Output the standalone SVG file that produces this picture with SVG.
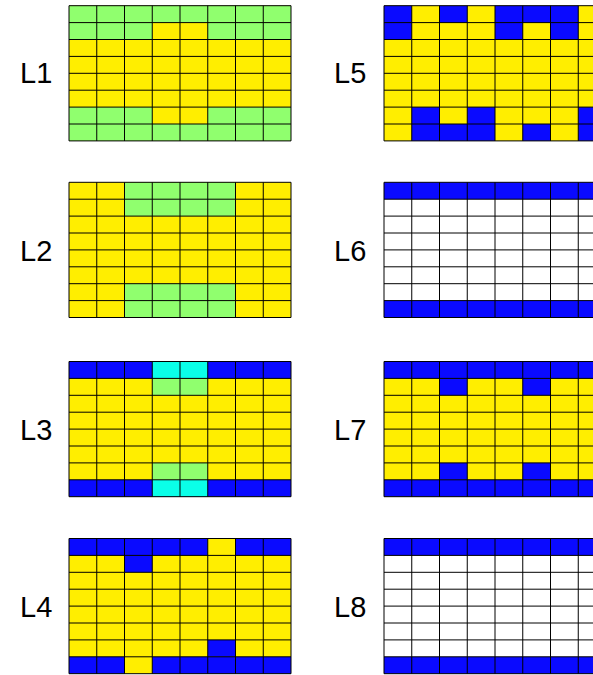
<svg xmlns="http://www.w3.org/2000/svg" xmlns:xlink="http://www.w3.org/1999/xlink" width="593" height="675" viewBox="0 0 593 675">
<style>
.lbl{font-family:"Liberation Sans",Arial,sans-serif;font-size:29px;fill:#000}
.y{fill:#FFEE00}
.g{fill:#90FF6E}
.b{fill:#0A0AFF}
.c{fill:#0AFFE8}
.w{fill:#FFFFFF}
.gl{fill:none;stroke:#000;stroke-width:1}
</style>
<defs>
<path id="lines" class="gl" d="M0,0H222V135.2H0Z M27.75,0V135.2 M55.5,0V135.2 M83.25,0V135.2 M111,0V135.2 M138.75,0V135.2 M166.5,0V135.2 M194.25,0V135.2 M0,16.9H222 M0,33.8H222 M0,50.7H222 M0,67.6H222 M0,84.5H222 M0,101.4H222 M0,118.3H222"/>
</defs>
<rect width="593" height="675" fill="#fff"/>

<g id="L1">
<text class="lbl" x="20" y="83">L1</text>
<g transform="translate(69,5.7)">
<rect class="y" width="222" height="135.2"/>
<rect class="g" x="0" y="0" width="222" height="16.9"/>
<rect class="g" x="0" y="118.3" width="222" height="16.9"/>
<rect class="g" x="0" y="16.9" width="83.25" height="16.9"/>
<rect class="g" x="138.75" y="16.9" width="83.25" height="16.9"/>
<rect class="g" x="0" y="101.4" width="83.25" height="16.9"/>
<rect class="g" x="138.75" y="101.4" width="83.25" height="16.9"/>
<use xlink:href="#lines"/>
</g>
</g>

<g id="L2">
<text class="lbl" x="20" y="261">L2</text>
<g transform="translate(69,182.3)">
<rect class="y" width="222" height="135.2"/>
<rect class="g" x="55.5" y="0" width="111" height="33.8"/>
<rect class="g" x="55.5" y="101.4" width="111" height="33.8"/>
<use xlink:href="#lines"/>
</g>
</g>

<g id="L3">
<text class="lbl" x="20" y="440">L3</text>
<g transform="translate(69,361.5)">
<rect class="y" width="222" height="135.2"/>
<rect class="b" x="0" y="0" width="222" height="16.9"/>
<rect class="b" x="0" y="118.3" width="222" height="16.9"/>
<rect class="c" x="83.25" y="0" width="55.5" height="16.9"/>
<rect class="c" x="83.25" y="118.3" width="55.5" height="16.9"/>
<rect class="g" x="83.25" y="16.9" width="55.5" height="16.9"/>
<rect class="g" x="83.25" y="101.4" width="55.5" height="16.9"/>
<use xlink:href="#lines"/>
</g>
</g>

<g id="L4">
<text class="lbl" x="20" y="617">L4</text>
<g transform="translate(69,538.5)">
<rect class="y" width="222" height="135.2"/>
<rect class="b" x="0" y="0" width="138.75" height="16.9"/>
<rect class="b" x="166.5" y="0" width="55.5" height="16.9"/>
<rect class="b" x="55.5" y="16.9" width="27.75" height="16.9"/>
<rect class="b" x="138.75" y="101.4" width="27.75" height="16.9"/>
<rect class="b" x="0" y="118.3" width="55.5" height="16.9"/>
<rect class="b" x="83.25" y="118.3" width="138.75" height="16.9"/>
<use xlink:href="#lines"/>
</g>
</g>

<g id="L5">
<text class="lbl" x="334" y="83">L5</text>
<g transform="translate(384,5.7)">
<rect class="y" width="222" height="135.2"/>
<rect class="b" x="0" y="0" width="27.75" height="16.9"/>
<rect class="b" x="55.5" y="0" width="27.75" height="16.9"/>
<rect class="b" x="111" y="0" width="83.25" height="16.9"/>
<rect class="b" x="0" y="16.9" width="27.75" height="16.9"/>
<rect class="b" x="111" y="16.9" width="27.75" height="16.9"/>
<rect class="b" x="166.5" y="16.9" width="27.75" height="16.9"/>
<rect class="b" x="27.75" y="101.4" width="27.75" height="16.9"/>
<rect class="b" x="83.25" y="101.4" width="27.75" height="16.9"/>
<rect class="b" x="194.25" y="101.4" width="27.75" height="16.9"/>
<rect class="b" x="27.75" y="118.3" width="83.25" height="16.9"/>
<rect class="b" x="138.75" y="118.3" width="27.75" height="16.9"/>
<rect class="b" x="194.25" y="118.3" width="27.75" height="16.9"/>
<use xlink:href="#lines"/>
</g>
</g>

<g id="L6">
<text class="lbl" x="334" y="261">L6</text>
<g transform="translate(384,182.3)">
<rect class="w" width="222" height="135.2"/>
<rect class="b" x="0" y="0" width="222" height="16.9"/>
<rect class="b" x="0" y="118.3" width="222" height="16.9"/>
<use xlink:href="#lines"/>
</g>
</g>

<g id="L7">
<text class="lbl" x="334" y="440">L7</text>
<g transform="translate(384,361.5)">
<rect class="y" width="222" height="135.2"/>
<rect class="b" x="0" y="0" width="222" height="16.9"/>
<rect class="b" x="0" y="118.3" width="222" height="16.9"/>
<rect class="b" x="55.5" y="16.9" width="27.75" height="16.9"/>
<rect class="b" x="138.75" y="16.9" width="27.75" height="16.9"/>
<rect class="b" x="55.5" y="101.4" width="27.75" height="16.9"/>
<rect class="b" x="138.75" y="101.4" width="27.75" height="16.9"/>
<use xlink:href="#lines"/>
</g>
</g>

<g id="L8">
<text class="lbl" x="334" y="617">L8</text>
<g transform="translate(384,538.5)">
<rect class="w" width="222" height="135.2"/>
<rect class="b" x="0" y="0" width="222" height="16.9"/>
<rect class="b" x="0" y="118.3" width="222" height="16.9"/>
<use xlink:href="#lines"/>
</g>
</g>

<g id="connectors"/>
</svg>
